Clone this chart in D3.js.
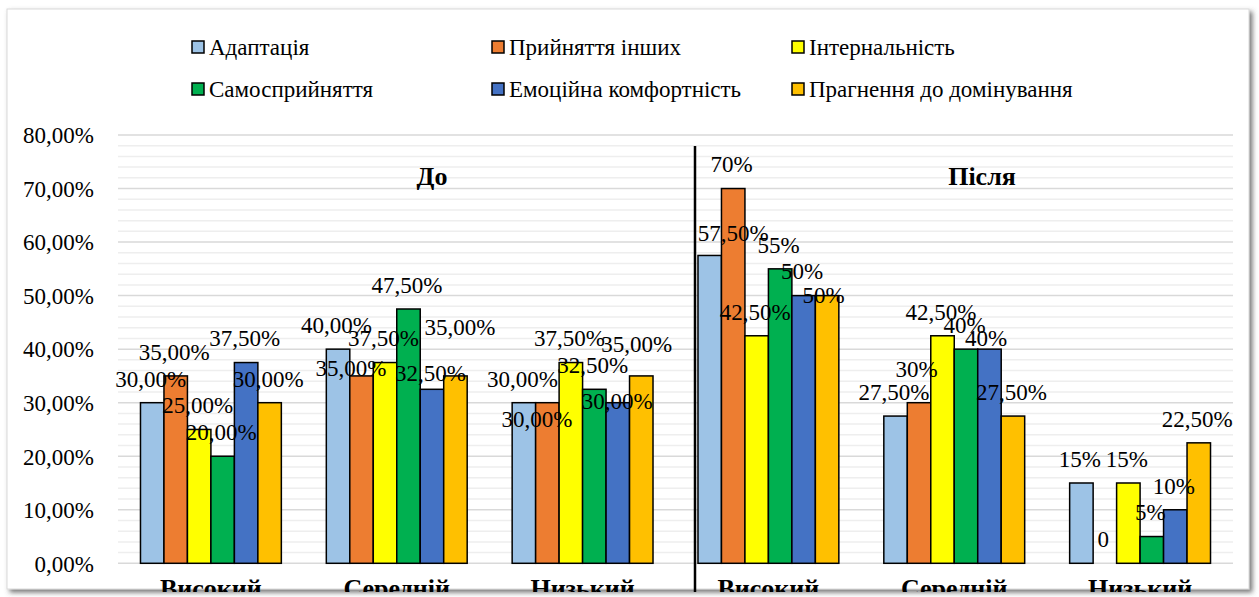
<!DOCTYPE html>
<html><head><meta charset="utf-8">
<script src="https://cdn.jsdelivr.net/npm/d3@7"></script>
<style>body{margin:0;background:#fff;} svg{display:block;} svg text{font-family:"Liberation Serif","Times New Roman","DejaVu Serif",serif;}</style>
</head><body>
<svg id="chart" width="1259" height="597"></svg>
<script>
// ---------- data ----------
const categories = ["Високий","Середній","Низький","Високий","Середній","Низький"];
const periods = ["До","Після"];
const seriesNames = ["Адаптація","Прийняття інших","Інтернальність","Самосприйняття","Емоційна комфортність","Прагнення до домінування"];
const adaptation   = [0.30, 0.40, 0.30, 0.575, 0.275, 0.15];
const acceptOthers = [0.35, 0.35, 0.30, 0.70, 0.30, 0.00];
const internality  = [0.25, 0.375, 0.375, 0.425, 0.425, 0.15];
const selfAccept   = [0.20, 0.475, 0.325, 0.55, 0.40, 0.05];
const emoComfort   = [0.375, 0.325, 0.30, 0.50, 0.40, 0.10];
const dominance    = [0.30, 0.35, 0.35, 0.50, 0.275, 0.225];
const seriesValues = [adaptation, acceptOthers, internality, selfAccept, emoComfort, dominance];
const yTicks = [0, 0.1, 0.2, 0.3, 0.4, 0.5, 0.6, 0.7, 0.8];
const seriesColors = ["#9DC3E6","#ED7D31","#FFFF00","#00B050","#4472C4","#FFC000"];
// manual label nudges (series index, category index, dx, dy)
const labelNudges = [
  {s:1,c:1,dx:-9,dy:16},{s:4,c:1,dx:0,dy:8},{s:5,c:1,dx:6,dy:-25},
  {s:1,c:2,dx:-9,dy:40},{s:4,c:2,dx:1,dy:22},{s:5,c:2,dx:-3,dy:-8},
  {s:0,c:3,dx:25,dy:2},{s:5,c:3,dx:-2,dy:24},
  {s:1,c:4,dx:-1,dy:-10},{s:4,c:4,dx:-2,dy:13}
];

// ---------- setup ----------
const svg = d3.select("#chart");
const locale = d3.formatLocale({decimal:",", thousands:" ", grouping:[3], currency:["",""]});
const fmt2 = locale.format(".2%");
const fmt0 = locale.format(".0%");
const FS = 23;

const defs = svg.append("defs");
const flt = defs.append("filter").attr("id","shadow").attr("x","-5%").attr("y","-5%").attr("width","110%").attr("height","115%");
flt.append("feDropShadow").attr("dx",3).attr("dy",3).attr("stdDeviation",2.5).attr("flood-color","#555").attr("flood-opacity",0.8);
defs.append("clipPath").attr("id","clipFrame").append("rect").attr("x",6).attr("y",8).attr("width",1245).attr("height",584);

// frame
svg.append("rect").attr("x",7).attr("y",9).attr("width",1242).attr("height",580)
  .attr("fill","#fff").attr("stroke","#d9d9d9").attr("stroke-width",1).attr("filter","url(#shadow)");

const g = svg.append("g").attr("clip-path","url(#clipFrame)");

const x0 = d3.scaleBand().domain(d3.range(categories.length)).range([118, 1233]).paddingInner(0.242).paddingOuter(0.121);
const x1 = d3.scaleBand().domain(d3.range(seriesNames.length)).range([0, x0.bandwidth()]);
const y = d3.scaleLinear().domain([0, 0.8]).range([563.3, 135]);

// grid
const minor = d3.range(0, 0.8001, 0.02).filter(v => Math.abs(v*10 - Math.round(v*10)) > 1e-6);
g.selectAll("line.minor").data(minor).join("line").attr("class","minor")
  .attr("x1",118).attr("x2",1233).attr("y1",d=>y(d)).attr("y2",d=>y(d))
  .attr("stroke","#eeeeee").attr("stroke-width",1.5);
g.selectAll("line.major").data(yTicks).join("line").attr("class","major")
  .attr("x1",118).attr("x2",1233).attr("y1",d=>y(d)).attr("y2",d=>y(d))
  .attr("stroke","#d9d9d9").attr("stroke-width",1.5);

// y axis labels
const yAxis = d3.axisLeft(y).tickValues(yTicks).tickFormat(fmt2).tickSize(0).tickPadding(0);
const ya = g.append("g").attr("transform","translate(94,0)").call(yAxis);
ya.select(".domain").remove();
ya.attr("font-family", null).attr("font-size", null);
ya.selectAll("text").attr("font-size",FS).attr("fill","#000").attr("dy","0.34em");

// bars
const cats = d3.range(categories.length);
const barData = [];
seriesValues.forEach((vals, s) => vals.forEach((v, c) => barData.push({s, c, v})));
g.selectAll("rect.bar").data(barData).join("rect").attr("class","bar")
  .attr("x", d => x0(d.c) + x1(d.s))
  .attr("y", d => y(d.v))
  .attr("width", x1.bandwidth())
  .attr("height", d => y(0) - y(d.v))
  .attr("fill", d => seriesColors[d.s])
  .attr("stroke", "#000").attr("stroke-width", d => d.v > 0 ? 1.5 : 0);

// labels
function labelText(d){
  if (d.c < 3) return fmt2(d.v);
  if (d.v === 0) return "0";
  return (Math.round(d.v*1000) % 10 === 0) ? fmt0(d.v) : fmt2(d.v);
}
function nudge(d){ return labelNudges.find(n => n.s === d.s && n.c === d.c) || {dx:0, dy:0}; }
g.selectAll("text.lbl").data(barData).join("text").attr("class","lbl")
  .attr("x", d => x0(d.c) + x1(d.s) + x1.bandwidth()/2 - 1.5 + nudge(d).dx)
  .attr("y", d => y(d.v) - 24 + nudge(d).dy)
  .attr("dy","0.34em")
  .attr("text-anchor","middle").attr("font-size",FS).attr("fill","#000")
  .text(labelText);

// divider
g.append("line").attr("x1",695).attr("x2",695).attr("y1",146).attr("y2",597)
  .attr("stroke","#000").attr("stroke-width",2.5);

// period titles
g.selectAll("text.period").data(periods).join("text").attr("class","period")
  .attr("x", (d,i) => i === 0 ? 432 : 982).attr("y", 176).attr("dy","0.34em")
  .attr("text-anchor","middle").attr("font-weight","bold").attr("font-size",26)
  .text(d => d);

// category labels
g.selectAll("text.cat").data(cats).join("text").attr("class","cat")
  .attr("x", c => x0(c) + x0.bandwidth()/2).attr("y", 597)
  .attr("text-anchor","middle").attr("font-weight","bold").attr("font-size",26)
  .text(c => categories[c]);

// legend
const legendPos = [[192,47],[492,47],[792,47],[192,89],[492,89],[792,89]];
const lg = svg.selectAll("g.leg").data(seriesNames).join("g").attr("class","leg")
  .attr("transform",(d,i)=>`translate(${legendPos[i][0]},${legendPos[i][1]})`);
lg.append("rect").attr("x",0).attr("y",-6).attr("width",12).attr("height",12)
  .attr("fill",(d,i)=>seriesColors[i]).attr("stroke","#000").attr("stroke-width",1.5);
lg.append("text").attr("x",17).attr("y",0).attr("dy","0.34em")
  .attr("font-size",FS).attr("fill","#000").text(d=>d);
</script>
</body></html>
